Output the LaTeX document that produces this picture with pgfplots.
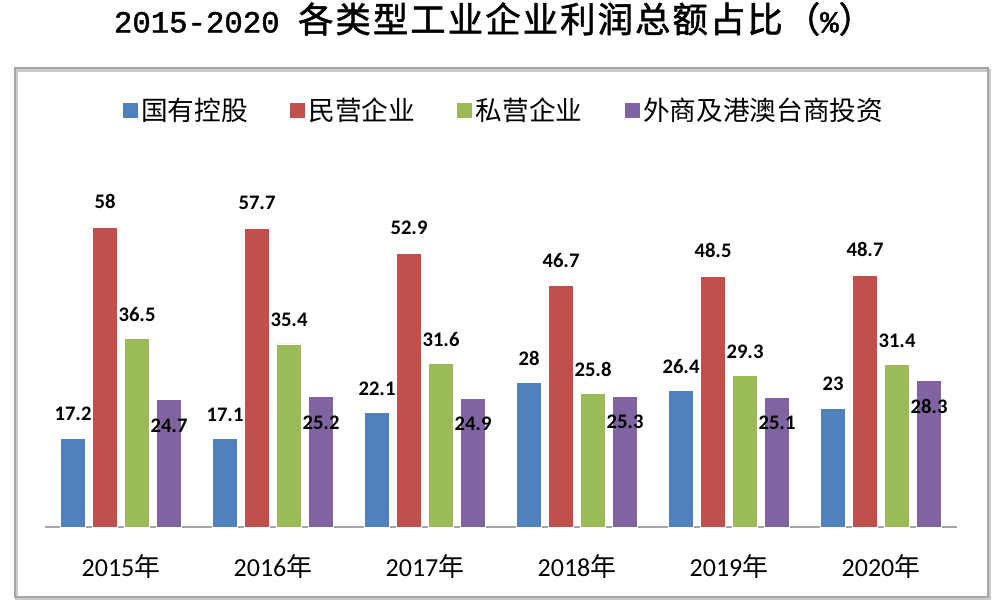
\documentclass[border=0pt]{standalone}
\usepackage{pgfplots}
\pgfplotsset{compat=1.18}
\usepackage{fontspec}
\setmainfont{Carlito}
\newfontfamily\cjk{Noto Sans CJK SC}
\newfontfamily\cjktitle[FakeBold=1.5,LetterSpace=6]{Noto Sans CJK SC}
\newfontfamily\monotitle[FakeBold=1.5]{Liberation Mono}
\definecolor{cBlue}{HTML}{4F81BD}
\definecolor{cRed}{HTML}{C0504D}
\definecolor{cGreen}{HTML}{9BBB59}
\definecolor{cPurple}{HTML}{8064A2}
\definecolor{frameGray}{HTML}{A6A6A6}
\begin{document}
\begin{tikzpicture}
\path[use as bounding box] (0,0) rectangle (750pt,455.25pt);
\draw[frameGray!60, line width=2pt] (12.5pt,6pt) rectangle (742pt,402.5pt);
\draw[frameGray, line width=1.2pt] (11.25pt,7.5pt) rectangle (741pt,404.25pt);
\node[anchor=center, inner sep=0pt] at (370.5pt,441pt) {\monotitle\fontsize{23}{26}\selectfont 2015-2020 \cjktitle\fontsize{26.5}{30}\selectfont 各类型工业企业利润总额占比（\monotitle\fontsize{23}{26}\selectfont\%\cjktitle\fontsize{26.5}{30}\selectfont）};
\begin{axis}[
  at={(33.75pt,60pt)}, anchor=south west,
  scale only axis, width=684pt, height=232.65pt,
  xmin=-0.5, xmax=5.5, ymin=0, ymax=60,
  clip=false,
  ybar=5pt, bar width=19pt,
  axis x line=bottom, axis y line=none,
  x axis line style={-, draw=frameGray, line width=1.4pt},
  xtick={0,1,2,3,4,5},
  xticklabels={2015{\cjk 年},2016{\cjk 年},2017{\cjk 年},2018{\cjk 年},2019{\cjk 年},2020{\cjk 年}},
  xtick style={draw=none},
  xticklabel style={font=\fontsize{19.5}{22}\selectfont, anchor=center, yshift=-27.75pt},
  /pgf/number format/assume math mode=true,
  nodes near coords,
  every node near coord/.append style={font=\bfseries\fontsize{15.5}{18}\selectfont, anchor=center, text=black},
  legend columns=4,
  legend style={draw=none, fill=none, at={(0.503,1.344)}, anchor=center,
    font=\cjk\fontsize{20}{24}\selectfont,
    /tikz/every even column/.append style={column sep=29pt},
    /tikz/every odd column/.append style={column sep=0pt}},
  legend image code/.code={\fill[#1] (0pt,-6pt) rectangle (12pt,6pt);},
]
\addplot[fill=cBlue, draw=white, line width=0.5pt, every node near coord/.append style={yshift=18pt}] coordinates {(0,17.2) (1,17.1) (2,22.1) (3,28) (4,26.4) (5,23)};
\addplot[fill=cRed, draw=white, line width=0.5pt, every node near coord/.append style={yshift=19pt}] coordinates {(0,58) (1,57.7) (2,52.9) (3,46.7) (4,48.5) (5,48.7)};
\addplot[fill=cGreen, draw=white, line width=0.5pt, every node near coord/.append style={yshift=18pt}] coordinates {(0,36.5) (1,35.4) (2,31.6) (3,25.8) (4,29.3) (5,31.4)};
\addplot[fill=cPurple, draw=white, line width=0.5pt, every node near coord/.append style={yshift=-19.5pt}] coordinates {(0,24.7) (1,25.2) (2,24.9) (3,25.3) (4,25.1) (5,28.3)};
\legend{国有控股,民营企业,私营企业,外商及港澳台商投资}
\end{axis}
\end{tikzpicture}
\end{document}
